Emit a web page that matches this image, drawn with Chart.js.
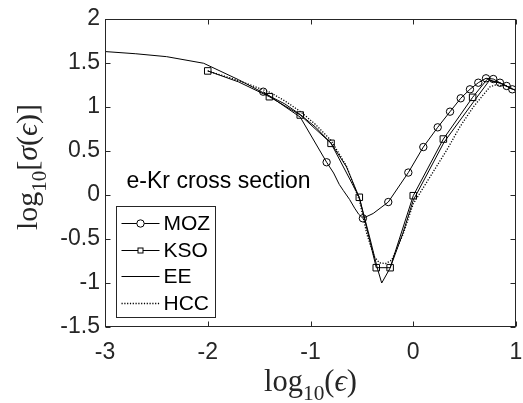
<!DOCTYPE html>
<html><head><meta charset="utf-8">
<script src="https://cdn.jsdelivr.net/npm/chart.js@4.4.0/dist/chart.umd.min.js"></script>
<style>html,body{margin:0;padding:0;background:#fff;overflow:hidden}</style>
</head><body>
<canvas id="c" width="523" height="403" style="display:block;width:523px;height:403px"></canvas>
<script>
// ---- data ----
const xTicks = [-3, -2, -1, 0, 1];
const xTickLabels = ['-3', '-2', '-1', '0', '1'];
const yTicks = [-1.5, -1, -0.5, 0, 0.5, 1, 1.5, 2];
const yTickLabels = ['-1.5', '-1', '-0.5', '0', '0.5', '1', '1.5', '2'];
const seriesNames = ['MOZ', 'KSO', 'EE', 'HCC'];

const mozX = [-1.46, -1.1, -0.843, -0.775, -0.72, -0.68, -0.62, -0.57, -0.53, -0.49, -0.39, -0.243, -0.048, 0.098, 0.238, 0.358, 0.462, 0.552, 0.633, 0.708, 0.779, 0.844, 0.909, 0.964];
const mozY = [1.174, 0.885, 0.372, 0.25, 0.12, 0.05, -0.05, -0.15, -0.22, -0.265, -0.21, -0.08, 0.255, 0.545, 0.769, 0.947, 1.099, 1.201, 1.276, 1.326, 1.318, 1.276, 1.239, 1.201];
const mozMarker = [1,0,1,0,0,0,0,0,0,1,0,1,1,1,1,1,1,1,1,1,1,1,1,1];

const ksoX = [-2.0, -1.7, -1.4, -1.1, -0.8, -0.525, -0.36, -0.225, 0.0, 0.293, 0.578, 0.72, 0.85, 1.0];
const ksoY = [1.41, 1.285, 1.117, 0.909, 0.587, -0.026, -0.826, -0.826, -0.008, 0.636, 1.11, 1.315, 1.27, 1.185];
const ksoMarker = [1,0,1,1,1,1,1,1,1,1,1,0,0,0];

const eeX = [-3.0, -2.7, -2.4, -2.04, -1.7, -1.4, -1.25, -1.1, -0.95, -0.8, -0.65, -0.525, -0.42, -0.35, -0.307, -0.225, -0.1, 0.0, 0.3, 0.6, 0.74, 0.85, 1.0];
const eeY = [1.63, 1.605, 1.572, 1.497, 1.31, 1.125, 1.035, 0.915, 0.77, 0.59, 0.32, -0.03, -0.5, -0.83, -1.0, -0.83, -0.43, -0.06, 0.6, 1.08, 1.30, 1.27, 1.185];

const hccX = [-2.0, -1.7, -1.4, -1.25, -1.1, -0.95, -0.8, -0.65, -0.525, -0.45, -0.38, -0.33, -0.27, -0.21, -0.1, 0.0, 0.326, 0.455, 0.584, 0.747, 0.8, 0.9, 1.0];
const hccY = [1.41, 1.3, 1.17, 1.07, 0.95, 0.8, 0.62, 0.33, -0.06, -0.45, -0.7, -0.77, -0.78, -0.74, -0.45, -0.1, 0.51, 0.776, 1.0, 1.23, 1.25, 1.24, 1.19];

const annotationText = 'e-Kr cross section';
const annotationPos = {x: -2.79, y: 0.074};

// ---- styling ----
const AX = '#262626';
const SANS = '"Liberation Sans", Arial, Helvetica, sans-serif';
const SERIF = '"Liberation Serif", "DejaVu Serif", serif';
const CIRCLE_R = 3.7, SQUARE_R = 4.6;

const pts = (xs, ys) => xs.map((x, i) => ({x, y: ys[i]}));

const datasets = [
  {label: seriesNames[0], data: pts(mozX, mozY), borderColor: '#000', borderWidth: 1,
   pointStyle: 'circle', pointRadius: mozMarker.map(m => m ? CIRCLE_R : 0),
   pointBorderColor: '#000', pointBackgroundColor: 'rgba(0,0,0,0)', pointBorderWidth: 1},
  {label: seriesNames[1], data: pts(ksoX, ksoY), borderColor: '#000', borderWidth: 1,
   pointStyle: 'rect', pointRadius: ksoMarker.map(m => m ? SQUARE_R : 0),
   pointBorderColor: '#000', pointBackgroundColor: 'rgba(0,0,0,0)', pointBorderWidth: 1},
  {label: seriesNames[2], data: pts(eeX, eeY), borderColor: '#000', borderWidth: 1, pointRadius: 0},
  {label: seriesNames[3], data: pts(hccX, hccY), borderColor: '#000', borderWidth: 1.3,
   borderDash: [1.2, 1.6], pointRadius: 0}
];

function mathParts(parts, size) {
  return parts.map(p => {
    const fs = p.sub ? size * 0.7 : size;
    return Object.assign({}, p, {font: (p.it ? 'italic ' : '') + fs + 'px ' + SERIF, dy: p.sub ? size * 0.3 : 0});
  });
}
function measureParts(ctx, parts) {
  let w = 0;
  parts.forEach(p => { ctx.font = p.font; p.w = ctx.measureText(p.t).width; w += p.w; });
  return w;
}
function drawMath(ctx, raw, targetW, cx, baseY, rotate) {
  let size = 26;
  let parts = mathParts(raw, size);
  let w = measureParts(ctx, parts);
  size = size * targetW / w;
  parts = mathParts(raw, size);
  w = measureParts(ctx, parts);
  ctx.save();
  if (rotate) { ctx.translate(baseY, cx); ctx.rotate(-Math.PI / 2); }
  else { ctx.translate(cx, baseY); }
  ctx.fillStyle = AX;
  ctx.textBaseline = 'alphabetic';
  ctx.textAlign = 'left';
  let x = -w / 2;
  parts.forEach(p => { ctx.font = p.font; ctx.fillText(p.t, x, p.dy); x += p.w; });
  ctx.restore();
}

const framePlugin = {
  id: 'frame',
  afterDatasetsDraw(chart) {
    const {ctx, chartArea: ca, scales} = chart;
    ctx.save();
    ctx.strokeStyle = AX;
    ctx.lineWidth = 1;
    const L = Math.round(ca.left) + 0.5, R = Math.round(ca.right) - 0.5;
    const T = Math.round(ca.top) + 0.5, B = Math.round(ca.bottom) - 0.5;
    ctx.strokeRect(L, T, R - L, B - T);
    const tl = 5;
    ctx.beginPath();
    xTicks.forEach(v => {
      const px = Math.round(scales.x.getPixelForValue(v)) + 0.5;
      ctx.moveTo(px, B); ctx.lineTo(px, B - tl);
      ctx.moveTo(px, T); ctx.lineTo(px, T + tl);
    });
    yTicks.forEach(v => {
      const py = Math.round(scales.y.getPixelForValue(v)) + 0.5;
      ctx.moveTo(L, py); ctx.lineTo(L + tl, py);
      ctx.moveTo(R, py); ctx.lineTo(R - tl, py);
    });
    ctx.stroke();

    // annotation text
    ctx.fillStyle = '#000';
    ctx.font = '23px ' + SANS;
    ctx.textBaseline = 'alphabetic';
    ctx.textAlign = 'left';
    ctx.fillText(annotationText, scales.x.getPixelForValue(annotationPos.x), scales.y.getPixelForValue(annotationPos.y));

    // legend
    const bx0 = Math.round(ca.left + 11) + 0.5, bx1 = Math.round(ca.left + 110) + 0.5;
    const by0 = Math.round(ca.bottom - 121) + 0.5, by1 = Math.round(ca.bottom - 10) + 0.5;
    ctx.fillStyle = '#fff';
    ctx.fillRect(bx0, by0, bx1 - bx0, by1 - by0);
    ctx.strokeStyle = AX;
    ctx.lineWidth = 1;
    ctx.strokeRect(bx0, by0, bx1 - bx0, by1 - by0);
    chart.data.datasets.forEach((ds, i) => {
      const yy = Math.round(by0 + 16.5 + i * 26.7) + 0.5;
      const lx0 = bx0 + 5, lx1 = bx0 + 43, mx = (lx0 + lx1) / 2;
      ctx.save();
      ctx.strokeStyle = '#000';
      ctx.lineWidth = ds.borderWidth;
      ctx.setLineDash(ds.borderDash || []);
      ctx.beginPath(); ctx.moveTo(lx0, yy); ctx.lineTo(lx1, yy); ctx.stroke();
      ctx.setLineDash([]);
      ctx.lineWidth = 1;
      if (ds.pointStyle === 'circle') {
        ctx.fillStyle = '#fff';
        ctx.beginPath(); ctx.arc(mx, yy, CIRCLE_R, 0, Math.PI * 2); ctx.fill(); ctx.stroke();
      } else if (ds.pointStyle === 'rect') {
        ctx.fillStyle = '#fff';
        const s = 2.5;
        ctx.fillRect(mx - s, yy - s, 2 * s, 2 * s);
        ctx.strokeRect(mx - s, yy - s, 2 * s, 2 * s);
      }
      ctx.restore();
      ctx.fillStyle = '#000';
      ctx.font = '21px ' + SANS;
      ctx.textBaseline = 'middle';
      ctx.fillText(ds.label, bx0 + 47, yy + 1);
    });

    // axis titles
    drawMath(ctx, [{t: 'log'}, {t: '10', sub: true}, {t: '('}, {t: 'ϵ', it: true}, {t: ')'}],
      93, (ca.left + ca.right) / 2, 391, false);
    drawMath(ctx, [{t: 'log'}, {t: '10', sub: true}, {t: '['}, {t: 'σ', it: true}, {t: '('}, {t: 'ϵ', it: true}, {t: ')'}, {t: ']'}],
      126, 167, 37, true);
    ctx.restore();
  }
};

const tickLabel = (ticks, labels) => v => {
  const i = ticks.findIndex(t => Math.abs(t - v) < 1e-9);
  return i >= 0 ? labels[i] : '';
};

new Chart(document.getElementById('c'), {
  type: 'line',
  data: {datasets},
  options: {
    responsive: false,
    animation: false,
    devicePixelRatio: 1,
    layout: {padding: {top: 19, right: 7, left: 0, bottom: 0}},
    plugins: {legend: {display: false}, tooltip: {enabled: false}, title: {display: false}},
    elements: {line: {tension: 0, fill: false}},
    scales: {
      x: {
        type: 'linear', min: -3, max: 1,
        afterBuildTicks: s => { s.ticks = xTicks.map(v => ({value: v})); },
        afterFit: s => { s.height = 76; s.paddingLeft = 0; s.paddingRight = 0; },
        grid: {display: false, drawTicks: false},
        border: {display: false},
        ticks: {callback: tickLabel(xTicks, xTickLabels), color: AX, padding: 12, maxRotation: 0,
                font: {family: SANS, size: 23}}
      },
      y: {
        type: 'linear', min: -1.5, max: 2,
        afterBuildTicks: s => { s.ticks = yTicks.map(v => ({value: v})); },
        afterFit: s => { s.width = 105; s.paddingTop = 0; s.paddingBottom = 0; },
        grid: {display: false, drawTicks: false},
        border: {display: false},
        ticks: {callback: tickLabel(yTicks, yTickLabels), color: AX, padding: 5,
                font: {family: SANS, size: 23}}
      }
    }
  },
  plugins: [framePlugin]
});
</script>
</body></html>
